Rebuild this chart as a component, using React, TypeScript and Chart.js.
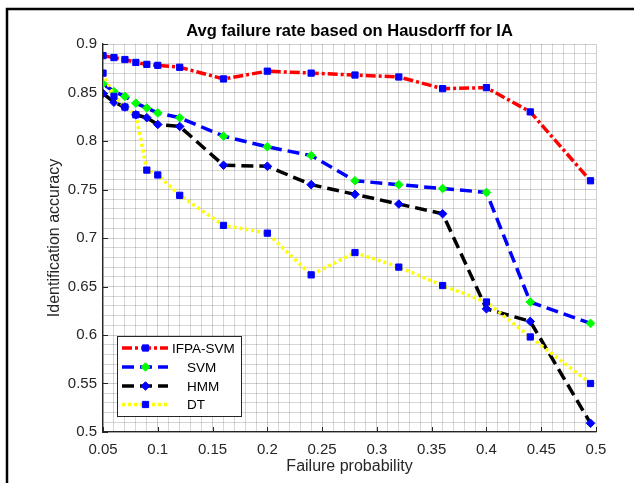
import { useEffect, useRef } from "react";
import { Chart, registerables } from "chart.js";

Chart.register(...registerables);

// ---------- data ----------
const failureProbability = [0.05, 0.06, 0.07, 0.08, 0.09, 0.1, 0.12, 0.16, 0.2, 0.24, 0.28, 0.32, 0.36, 0.4, 0.44, 0.495];
const ifpaSvm = [0.888, 0.886, 0.884, 0.881, 0.879, 0.878, 0.876, 0.864, 0.872, 0.870, 0.868, 0.866, 0.854, 0.855, 0.830, 0.759];
const svm = [0.859, 0.851, 0.846, 0.839, 0.834, 0.829, 0.824, 0.805, 0.794, 0.785, 0.759, 0.755, 0.751, 0.747, 0.634, 0.612];
const hmm = [0.849, 0.840, 0.835, 0.827, 0.824, 0.817, 0.815, 0.775, 0.774, 0.755, 0.745, 0.735, 0.725, 0.627, 0.614, 0.509];
const dt = [0.870, 0.846, 0.835, 0.827, 0.770, 0.765, 0.744, 0.713, 0.705, 0.662, 0.685, 0.670, 0.651, 0.634, 0.598, 0.550];

const seriesLabels = ["IFPA-SVM", "    SVM", "    HMM", "    DT"];

const xTickValues = [0.05, 0.1, 0.15, 0.2, 0.25, 0.3, 0.35, 0.4, 0.45, 0.5];
const xTickLabels = ["0.05", "0.1", "0.15", "0.2", "0.25", "0.3", "0.35", "0.4", "0.45", "0.5"];
const yTickValues = [0.5, 0.55, 0.6, 0.65, 0.7, 0.75, 0.8, 0.85, 0.9];
const yTickLabels = ["0.5", "0.55", "0.6", "0.65", "0.7", "0.75", "0.8", "0.85", "0.9"];

const titleText = "Avg failure rate based on Hausdorff for IA";
const xTitle = "Failure probability";
const yTitle = "Identification accuracy";

const FONT = "Arial, 'Liberation Sans', Helvetica, sans-serif";
const AXIS_COLOR = "#262626";

function labelFor(values: number[], labels: string[], v: number): string {
  for (let i = 0; i < values.length; i++) {
    if (Math.abs(values[i] - v) < 1e-6) return labels[i];
  }
  return "";
}

function isMajor(values: number[], v: number): boolean {
  return values.some((m) => Math.abs(m - v) < 1e-6);
}

function drawMarker(ctx: CanvasRenderingContext2D, style: string, x: number, y: number, r: number, fill: string) {
  ctx.save();
  ctx.setLineDash([]);
  ctx.fillStyle = fill;
  ctx.strokeStyle = fill;
  ctx.lineWidth = 1;
  ctx.beginPath();
  if (style === "rect") {
    const s = Math.SQRT1_2 * r;
    ctx.rect(x - s, y - s, 2 * s, 2 * s);
  } else {
    ctx.moveTo(x, y - r);
    ctx.lineTo(x + r, y);
    ctx.lineTo(x, y + r);
    ctx.lineTo(x - r, y);
    ctx.closePath();
  }
  ctx.fill();
  ctx.stroke();
  ctx.restore();
}

const decorPlugin = {
  id: "decor",
  beforeDraw(chart: any) {
    const ctx = chart.ctx;
    ctx.save();
    ctx.fillStyle = "#ffffff";
    ctx.fillRect(0, 0, chart.width, chart.height);
    ctx.restore();
  },
  beforeDatasetsDraw(chart: any) {
    const ctx = chart.ctx;
    const xs = chart.scales.x;
    const ys = chart.scales.y;
    const area = chart.chartArea;
    ctx.save();
    ctx.strokeStyle = AXIS_COLOR;
    ctx.lineWidth = 1;
    ctx.beginPath();
    xTickValues.forEach((v) => {
      const px = Math.round(xs.getPixelForValue(v)) + 0.5;
      ctx.moveTo(px, area.bottom);
      ctx.lineTo(px, area.bottom - 5);
    });
    yTickValues.forEach((v) => {
      const py = Math.round(ys.getPixelForValue(v)) + 0.5;
      ctx.moveTo(area.left, py);
      ctx.lineTo(area.left + 5, py);
    });
    ctx.stroke();
    ctx.restore();
  },
  afterDraw(chart: any) {
    const ctx = chart.ctx;
    // figure frame (left and top edges)
    ctx.save();
    ctx.strokeStyle = "#000000";
    ctx.lineWidth = 2.5;
    ctx.beginPath();
    ctx.moveTo(7, chart.height);
    ctx.lineTo(7, 9);
    ctx.lineTo(chart.width, 9);
    ctx.stroke();
    ctx.restore();

    // legend box
    const bx = 117.5, by = 336.5, bw = 124, bh = 80;
    ctx.save();
    ctx.fillStyle = "#ffffff";
    ctx.fillRect(bx, by, bw, bh);
    ctx.strokeStyle = "#262626";
    ctx.lineWidth = 1;
    ctx.strokeRect(bx, by, bw, bh);
    const rows = [348, 367, 386, 404.5];
    chart.data.datasets.forEach((ds: any, i: number) => {
      const y = rows[i];
      ctx.save();
      ctx.strokeStyle = ds.borderColor;
      ctx.lineWidth = ds.borderWidth;
      ctx.setLineDash(ds.borderDash || []);
      ctx.beginPath();
      ctx.moveTo(122, y);
      ctx.lineTo(168, y);
      ctx.stroke();
      ctx.restore();
      drawMarker(ctx, ds.pointStyle, 145.5, y, ds.pointRadius, ds.pointBackgroundColor);
      ctx.fillStyle = "#000000";
      ctx.font = `13.5px ${FONT}`;
      ctx.textAlign = "left";
      ctx.textBaseline = "middle";
      ctx.fillText(ds.label, 172, y + 1);
    });
    ctx.restore();
  },
};

function toPoints(ys: number[]) {
  return failureProbability.map((x, i) => ({ x, y: ys[i] }));
}

export default function App() {
  const canvasRef = useRef<HTMLCanvasElement | null>(null);

  useEffect(() => {
    const canvas = canvasRef.current;
    if (!canvas) return;
    const gridColor = (ctx: any, majors: number[]) =>
      isMajor(majors, ctx.tick?.value ?? 0) ? "rgba(0,0,0,0.19)" : "rgba(0,0,0,0.16)";

    const chart = new Chart(canvas, {
      type: "line",
      data: {
        datasets: [
          {
            label: seriesLabels[0],
            data: toPoints(ifpaSvm),
            borderColor: "#ff0000",
            borderWidth: 3.5,
            borderDash: [10, 3, 3, 3],
            pointStyle: "rect",
            pointRadius: 4.4,
            pointBackgroundColor: "#0000ff",
            pointBorderColor: "#0000ff",
            pointBorderWidth: 1,
            fill: false,
            tension: 0,
            order: 3,
          },
          {
            label: seriesLabels[1],
            data: toPoints(svm),
            borderColor: "#0000ff",
            borderWidth: 3.5,
            borderDash: [12, 6],
            pointStyle: "rectRot",
            pointRadius: 4.3,
            pointBackgroundColor: "#00ff00",
            pointBorderColor: "#00ff00",
            pointBorderWidth: 1,
            fill: false,
            tension: 0,
            order: 2,
          },
          {
            label: seriesLabels[2],
            data: toPoints(hmm),
            borderColor: "#000000",
            borderWidth: 3.5,
            borderDash: [12, 6],
            pointStyle: "rectRot",
            pointRadius: 4.3,
            pointBackgroundColor: "#0000ff",
            pointBorderColor: "#0000ff",
            pointBorderWidth: 1,
            fill: false,
            tension: 0,
            order: 1,
          },
          {
            label: seriesLabels[3],
            data: toPoints(dt),
            borderColor: "#ffff00",
            borderWidth: 3.5,
            borderDash: [3, 3],
            pointStyle: "rect",
            pointRadius: 4.4,
            pointBackgroundColor: "#0000ff",
            pointBorderColor: "#0000ff",
            pointBorderWidth: 1,
            fill: false,
            tension: 0,
            order: 0,
          },
        ],
      },
      options: {
        animation: false,
        responsive: false,
        devicePixelRatio: 1,
        layout: { padding: { left: 0, right: 38, top: 0, bottom: 0 } },
        plugins: {
          legend: { display: false },
          tooltip: { enabled: false },
          title: {
            display: true,
            text: titleText,
            fullSize: false,
            color: "#000000",
            font: { family: FONT, size: 16.5, weight: "bold" },
            padding: { top: 21.1, bottom: 3.1 },
          },
        },
        scales: {
          x: {
            type: "linear",
            min: 0.05,
            max: 0.5,
            afterFit: (s: any) => {
              s.height = 51;
            },
            ticks: {
              stepSize: 0.01,
              maxTicksLimit: 100,
              autoSkip: false,
              maxRotation: 0,
              minRotation: 0,
              padding: 8.5,
              color: AXIS_COLOR,
              font: { family: FONT, size: 15 },
              callback: (v: any) => labelFor(xTickValues, xTickLabels, Number(v)),
            },
            grid: {
              drawTicks: false,
              lineWidth: 1,
              color: (ctx: any) => gridColor(ctx, xTickValues),
            },
            border: { display: true, color: AXIS_COLOR, width: 1.3 },
            title: {
              display: true,
              text: xTitle,
              color: AXIS_COLOR,
              font: { family: FONT, size: 16 },
              padding: { top: 0, bottom: 6.4 },
            },
          },
          y: {
            type: "linear",
            min: 0.5,
            max: 0.9,
            afterFit: (s: any) => {
              s.width = 103;
            },
            ticks: {
              stepSize: 0.01,
              maxTicksLimit: 100,
              autoSkip: false,
              padding: 6,
              color: AXIS_COLOR,
              font: { family: FONT, size: 15 },
              callback: (v: any) => labelFor(yTickValues, yTickLabels, Number(v)),
            },
            grid: {
              drawTicks: false,
              lineWidth: 1,
              color: (ctx: any) => gridColor(ctx, yTickValues),
            },
            border: { display: true, color: AXIS_COLOR, width: 1.3 },
            title: {
              display: true,
              text: yTitle,
              color: AXIS_COLOR,
              font: { family: FONT, size: 16 },
              padding: { top: 45.4, bottom: 0 },
            },
          },
        },
      } as any,
      plugins: [decorPlugin],
    });

    return () => {
      chart.destroy();
    };
  }, []);

  return (
    <div
      style={{
        position: "fixed",
        left: 0,
        top: 0,
        width: 634,
        height: 483,
        background: "#ffffff",
      }}
    >
      <canvas ref={canvasRef} width={634} height={483} style={{ display: "block", width: 634, height: 483 }} />
    </div>
  );
}
